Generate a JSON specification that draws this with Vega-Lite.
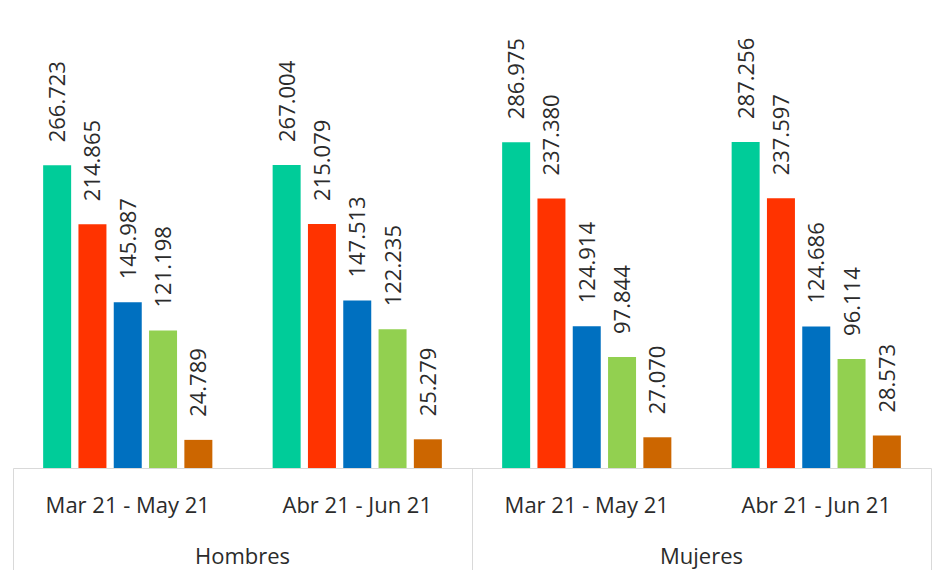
{
  "$schema": "https://vega.github.io/schema/vega-lite/v6.json",
  "width": 918,
  "height": 468,
  "padding": {"left": 12, "top": 0, "right": 2, "bottom": 0},
  "config": {"view": {"stroke": null}, "font": "Open Sans"},
  "data": {
    "values": [
      {"grupo": "Hombres|Mar 21 - May 21", "serie": "Serie 1", "valor": 266.723},
      {"grupo": "Hombres|Mar 21 - May 21", "serie": "Serie 2", "valor": 214.865},
      {"grupo": "Hombres|Mar 21 - May 21", "serie": "Serie 3", "valor": 145.987},
      {"grupo": "Hombres|Mar 21 - May 21", "serie": "Serie 4", "valor": 121.198},
      {"grupo": "Hombres|Mar 21 - May 21", "serie": "Serie 5", "valor": 24.789},
      {"grupo": "Hombres|Abr 21 - Jun 21", "serie": "Serie 1", "valor": 267.004},
      {"grupo": "Hombres|Abr 21 - Jun 21", "serie": "Serie 2", "valor": 215.079},
      {"grupo": "Hombres|Abr 21 - Jun 21", "serie": "Serie 3", "valor": 147.513},
      {"grupo": "Hombres|Abr 21 - Jun 21", "serie": "Serie 4", "valor": 122.235},
      {"grupo": "Hombres|Abr 21 - Jun 21", "serie": "Serie 5", "valor": 25.279},
      {"grupo": "Mujeres|Mar 21 - May 21", "serie": "Serie 1", "valor": 286.975},
      {"grupo": "Mujeres|Mar 21 - May 21", "serie": "Serie 2", "valor": 237.380},
      {"grupo": "Mujeres|Mar 21 - May 21", "serie": "Serie 3", "valor": 124.914},
      {"grupo": "Mujeres|Mar 21 - May 21", "serie": "Serie 4", "valor": 97.844},
      {"grupo": "Mujeres|Mar 21 - May 21", "serie": "Serie 5", "valor": 27.070},
      {"grupo": "Mujeres|Abr 21 - Jun 21", "serie": "Serie 1", "valor": 287.256},
      {"grupo": "Mujeres|Abr 21 - Jun 21", "serie": "Serie 2", "valor": 237.597},
      {"grupo": "Mujeres|Abr 21 - Jun 21", "serie": "Serie 3", "valor": 124.686},
      {"grupo": "Mujeres|Abr 21 - Jun 21", "serie": "Serie 4", "valor": 96.114},
      {"grupo": "Mujeres|Abr 21 - Jun 21", "serie": "Serie 5", "valor": 28.573}
    ]
  },
  "layer": [
    {
      "mark": {"type": "bar"},
      "encoding": {
        "x": {
          "field": "grupo", "type": "nominal", "sort": null,
          "scale": {"paddingInner": 0, "paddingOuter": 0},
          "axis": {
            "title": null, "orient": "bottom", "ticks": false,
            "domainColor": "#d9d9d9", "domainWidth": 1,
            "labelExpr": "split(datum.value, '|')[1]",
            "labelFontSize": 22, "labelColor": "#2b2b2b", "labelPadding": 27, "labelAngle": 0
          }
        },
        "xOffset": {
          "field": "serie", "type": "nominal", "sort": null,
          "scale": {"paddingInner": 0.207, "paddingOuter": 0.854}
        },
        "y": {"field": "valor", "type": "quantitative", "scale": {"domain": [0, 412.4], "nice": false}, "axis": null},
        "color": {
          "field": "serie", "type": "nominal", "legend": null,
          "scale": {
            "domain": ["Serie 1", "Serie 2", "Serie 3", "Serie 4", "Serie 5"],
            "range": ["#00CC99", "#FF3300", "#0070C0", "#92D050", "#CC6600"]
          }
        }
      }
    },
    {
      "mark": {
        "type": "text", "angle": 270, "align": "left", "baseline": "middle",
        "dx": 23, "dy": 1, "fontSize": 22, "color": "#2b2b2b"
      },
      "encoding": {
        "x": {
          "field": "grupo", "type": "nominal", "sort": null,
          "axis": {
            "title": null, "orient": "bottom", "domain": false, "grid": false,
            "ticks": true, "tickSize": 102, "tickColor": "#d9d9d9", "tickWidth": 1,
            "bandPosition": 1, "tickExtra": true,
            "tickOpacity": {
              "condition": {"test": "datum.value === 'Hombres|Mar 21 - May 21' || datum.value === 'Mujeres|Mar 21 - May 21'", "value": 0},
              "value": 1
            },
            "labelExpr": "datum.value === 'Hombres|Mar 21 - May 21' ? 'Hombres' : datum.value === 'Mujeres|Mar 21 - May 21' ? 'Mujeres' : ''",
            "labelFontSize": 22, "labelColor": "#2b2b2b", "labelPadding": -24, "labelOffset": 114.75, "labelAngle": 0
          }
        },
        "xOffset": {"field": "serie", "type": "nominal", "sort": null},
        "y": {"field": "valor", "type": "quantitative"},
        "text": {"field": "valor", "type": "quantitative", "format": ".3f"}
      }
    }
  ],
  "resolve": {"axis": {"x": "independent"}}
}
